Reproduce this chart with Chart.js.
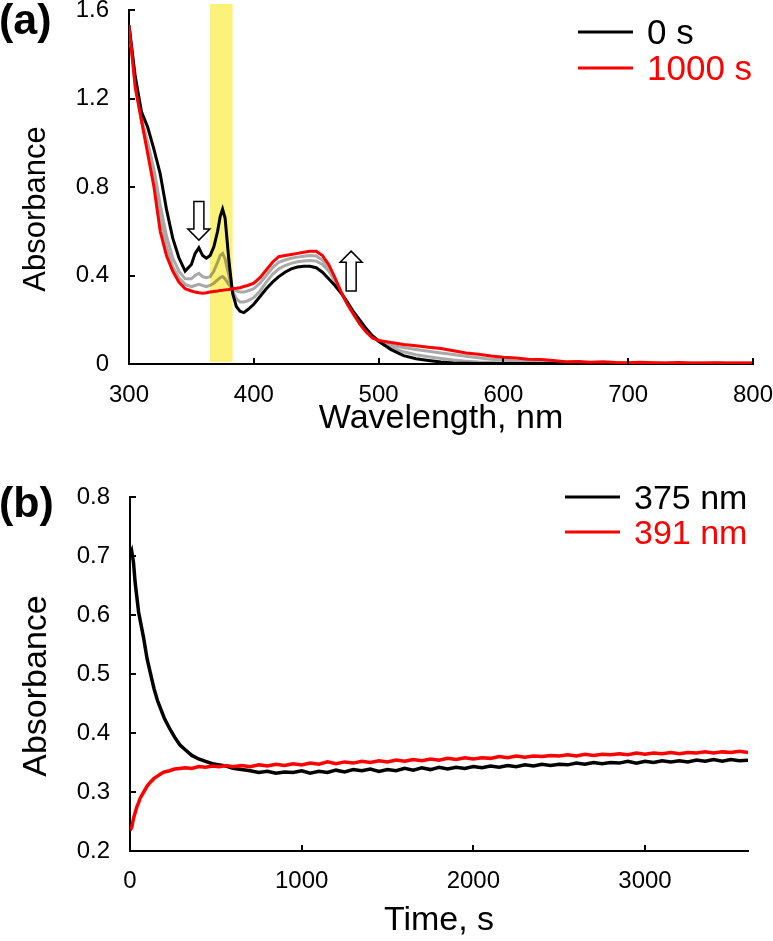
<!DOCTYPE html>
<html>
<head>
<meta charset="utf-8">
<script src="https://cdn.jsdelivr.net/npm/chart.js@4.4.0/dist/chart.umd.min.js"></script>
<style>
  html, body { margin: 0; padding: 0; background: #fff; }
  #wrap { position: relative; width: 773px; height: 941px; }
  .panel { position: absolute; left: 0; width: 773px; }
  #panelA { top: 0; height: 460px; }
  #panelB { top: 470px; height: 471px; }
</style>
</head>
<body>
<div id="wrap">
  <div class="panel" id="panelA"><canvas id="specChart"></canvas></div>
  <div class="panel" id="panelB"><canvas id="kinChart"></canvas></div>
</div>
<script>
// ---- (a) spectra ----
const wavelengths = [
  300, 305, 310, 315, 320, 325, 330, 335, 340, 345,
  350, 353, 356, 359, 362, 365, 368, 371, 373, 375, 377,
  380, 383, 386, 389, 392, 395, 400,
  405, 410, 415, 420, 425, 430, 435, 440, 445, 450,
  455, 460, 465, 470, 475, 480, 485, 490, 495, 500,
  510, 520, 530, 540, 550, 560, 570, 580, 590, 600,
  610, 620, 630, 640, 650, 660, 670, 680, 690, 700,
  710, 720, 730, 740, 750, 760, 770, 780, 790, 800
];
const abs0s = [
  1.53, 1.30, 1.14, 1.07, 0.97, 0.86, 0.70, 0.57, 0.48, 0.42,
  0.45, 0.50, 0.525, 0.49, 0.478, 0.49, 0.53, 0.60, 0.665, 0.70, 0.66,
  0.47, 0.32, 0.26, 0.238, 0.232, 0.245, 0.27,
  0.305, 0.34, 0.37, 0.395, 0.415, 0.43, 0.438, 0.442, 0.442, 0.435,
  0.415, 0.385, 0.355, 0.32, 0.28, 0.235, 0.198, 0.16, 0.128, 0.103,
  0.065, 0.038, 0.024, 0.016, 0.009, 0.005, 0.003, 0.002, 0.002, 0.002,
  0.002, 0.002, 0.002, 0.002, 0.002, 0.002, 0.002, 0.002, 0.002, 0.002,
  0.002, 0.002, 0.002, 0.002, 0.002, 0.002, 0.002, 0.002, 0.002, 0.002
];
const absMid1 = [
  1.53, 1.27, 1.11, 1.00, 0.88, 0.72, 0.58, 0.48, 0.42, 0.385,
  0.385, 0.40, 0.41, 0.395, 0.39, 0.395, 0.42, 0.46, 0.49, 0.50, 0.475,
  0.40, 0.33, 0.295, 0.28, 0.28, 0.285, 0.30,
  0.33, 0.37, 0.405, 0.43, 0.445, 0.455, 0.462, 0.466, 0.468, 0.465,
  0.45, 0.42, 0.375, 0.325, 0.275, 0.23, 0.19, 0.155, 0.125, 0.105,
  0.075, 0.055, 0.042, 0.033, 0.025, 0.018, 0.013, 0.009, 0.007, 0.005,
  0.004, 0.004, 0.003, 0.004, 0.003, 0.003, 0.004, 0.003, 0.003, 0.003,
  0.003, 0.003, 0.003, 0.003, 0.003, 0.003, 0.003, 0.003, 0.003, 0.003
];
const absMid2 = [
  1.53, 1.26, 1.10, 0.97, 0.83, 0.66, 0.53, 0.44, 0.39, 0.36,
  0.35, 0.355, 0.36, 0.355, 0.35, 0.355, 0.365, 0.38, 0.39, 0.395, 0.385,
  0.36, 0.34, 0.33, 0.325, 0.325, 0.33, 0.34,
  0.365, 0.40, 0.435, 0.46, 0.47, 0.478, 0.483, 0.487, 0.49, 0.488,
  0.47, 0.435, 0.38, 0.322, 0.27, 0.222, 0.18, 0.148, 0.125, 0.108,
  0.085, 0.075, 0.066, 0.058, 0.05, 0.043, 0.035, 0.028, 0.022, 0.018,
  0.014, 0.012, 0.01, 0.008, 0.007, 0.006, 0.006, 0.005, 0.006, 0.005,
  0.005, 0.004, 0.005, 0.004, 0.005, 0.004, 0.005, 0.004, 0.004, 0.004
];
const abs1000s = [
  1.53, 1.25, 1.10, 0.95, 0.80, 0.60, 0.49, 0.42, 0.37, 0.34,
  0.33, 0.325, 0.322, 0.32, 0.322, 0.325, 0.328, 0.33, 0.332, 0.333, 0.335,
  0.337, 0.34, 0.342, 0.345, 0.35, 0.355, 0.365,
  0.39, 0.425, 0.46, 0.485, 0.49, 0.495, 0.50, 0.505, 0.51, 0.51,
  0.49, 0.45, 0.39, 0.325, 0.27, 0.225, 0.18, 0.145, 0.118, 0.106,
  0.097, 0.088, 0.082, 0.076, 0.07, 0.06, 0.05, 0.044, 0.036, 0.03,
  0.027, 0.022, 0.02, 0.016, 0.01, 0.011, 0.008, 0.01, 0.007, 0.006,
  0.008, 0.006, 0.005, 0.007, 0.005, 0.004, 0.006, 0.004, 0.005, 0.004
];
const wavelengthTicks = [300, 400, 500, 600, 700, 800];
const absTicksA = [0, 0.4, 0.8, 1.2, 1.6];
const bandRange = [365, 383];          // irradiation window, nm
const arrowDown = { nm: 356, from: 0.735, to: 0.56 };
const arrowUp = { nm: 478, from: 0.33, to: 0.51 };

// ---- (b) kinetics ----
const times = [
  0, 10, 20, 30, 40, 50, 60, 80, 100, 120,
  140, 160, 180, 200, 230, 260, 290, 320, 360, 400,
  440, 480, 520, 560, 600,
  650, 700, 750, 800, 850, 900, 950, 1000, 1050, 1100,
  1150, 1200, 1250, 1300, 1350, 1400, 1450, 1500, 1550, 1600,
  1650, 1700, 1750, 1800, 1850, 1900, 1950, 2000, 2050, 2100,
  2150, 2200, 2250, 2300, 2350, 2400, 2450, 2500, 2550, 2600,
  2650, 2700, 2750, 2800, 2850, 2900, 2950, 3000, 3050, 3100,
  3150, 3200, 3250, 3300, 3350, 3400, 3450, 3500, 3550, 3600
];
const abs375 = [
  0.700, 0.708, 0.690, 0.655, 0.630, 0.605, 0.590, 0.560, 0.525, 0.500,
  0.475, 0.455, 0.440, 0.425, 0.408, 0.393, 0.380, 0.372, 0.362, 0.356,
  0.352, 0.348, 0.346, 0.344, 0.340,
  0.338, 0.336, 0.333, 0.335, 0.332, 0.334, 0.333, 0.336, 0.332, 0.335,
  0.333, 0.337, 0.334, 0.338, 0.336, 0.339, 0.335, 0.338, 0.336, 0.340,
  0.337, 0.341, 0.338, 0.342, 0.339, 0.342, 0.340, 0.343, 0.341, 0.344,
  0.342, 0.345, 0.343, 0.346, 0.344, 0.347, 0.345, 0.347, 0.346, 0.349,
  0.347, 0.350, 0.348, 0.350, 0.349, 0.352, 0.349, 0.352, 0.350, 0.353,
  0.351, 0.353, 0.351, 0.354, 0.352, 0.355, 0.352, 0.355, 0.353, 0.354
];
const abs391 = [
  0.235, 0.240, 0.255, 0.265, 0.275, 0.282, 0.290, 0.300, 0.310, 0.317,
  0.323, 0.327, 0.331, 0.334, 0.336, 0.339, 0.340, 0.341, 0.340, 0.343,
  0.342, 0.344, 0.343, 0.345, 0.343,
  0.345, 0.343, 0.346, 0.344, 0.347, 0.345, 0.348, 0.346, 0.349, 0.347,
  0.351, 0.348, 0.351, 0.349, 0.352, 0.350, 0.353, 0.351, 0.354, 0.352,
  0.355, 0.353, 0.356, 0.354, 0.357, 0.355, 0.358, 0.356, 0.358, 0.357,
  0.360, 0.358, 0.361, 0.359, 0.361, 0.360, 0.362, 0.361, 0.363, 0.361,
  0.364, 0.362, 0.364, 0.363, 0.365, 0.363, 0.366, 0.364, 0.366, 0.365,
  0.367, 0.365, 0.367, 0.366, 0.368, 0.366, 0.368, 0.367, 0.369, 0.367
];
const timeTicks = [0, 1000, 2000, 3000];
const absTicksB = [0.2, 0.3, 0.4, 0.5, 0.6, 0.7, 0.8];

const FONT = "'Liberation Sans', Arial, Helvetica, sans-serif";
Chart.defaults.font.family = FONT;
Chart.defaults.color = "#000";
Chart.defaults.responsive = true;
Chart.defaults.maintainAspectRatio = false;
Chart.defaults.animation = false;
Chart.defaults.plugins.legend.display = false;
Chart.defaults.plugins.tooltip.enabled = false;
Chart.defaults.elements.point.radius = 0;
Chart.defaults.elements.line.tension = 0;

const pairs = (xs, ys) => xs.map((x, i) => ({ x: x, y: ys[i] }));
const noPad = s => { s.paddingTop = s.paddingBottom = s.paddingLeft = s.paddingRight = 0; };
const fitWidth = w => s => { s.width = w; noPad(s); };
const fitHeight = h => s => { s.height = h; noPad(s); };
const fixedTicks = list => s => { s.ticks = list.map(v => ({ value: v })); };
const decimal = v => String(+(+v).toFixed(1));

// short ticks pointing into the plot
const innerTicks = {
  id: 'innerTicks',
  afterDatasetsDraw(chart) {
    const { ctx, chartArea: a, scales: { x, y } } = chart;
    ctx.save();
    ctx.strokeStyle = '#000';
    ctx.lineWidth = 2;
    ctx.beginPath();
    x.ticks.forEach(t => {
      const px = Math.round(x.getPixelForValue(t.value));
      ctx.moveTo(px, a.bottom); ctx.lineTo(px, a.bottom - 6);
    });
    y.ticks.forEach(t => {
      const py = Math.round(y.getPixelForValue(t.value));
      ctx.moveTo(a.left, py); ctx.lineTo(a.left + 6, py);
    });
    ctx.stroke();
    ctx.restore();
  }
};

// yellow band laid over the spectra
const bandPlugin = {
  id: 'band',
  afterDatasetsDraw(chart) {
    const { ctx, chartArea: a, scales: { x } } = chart;
    const x0 = x.getPixelForValue(bandRange[0]);
    const x1 = x.getPixelForValue(bandRange[1]);
    ctx.save();
    ctx.globalCompositeOperation = 'multiply';
    ctx.fillStyle = '#fbf27a';
    ctx.fillRect(x0, a.top - 6, x1 - x0, a.bottom - a.top + 4);
    ctx.restore();
  }
};

function blockArrow(ctx, cx, yTail, yTip) {
  const dir = yTip > yTail ? 1 : -1;
  const shaft = 5, head = 11, headLen = 11;
  const yNeck = yTip - dir * headLen;
  ctx.beginPath();
  ctx.moveTo(cx - shaft, yTail);
  ctx.lineTo(cx + shaft, yTail);
  ctx.lineTo(cx + shaft, yNeck);
  ctx.lineTo(cx + head, yNeck);
  ctx.lineTo(cx, yTip);
  ctx.lineTo(cx - head, yNeck);
  ctx.lineTo(cx - shaft, yNeck);
  ctx.closePath();
  ctx.fillStyle = '#fff';
  ctx.fill();
  ctx.strokeStyle = '#000';
  ctx.lineWidth = 1.5;
  ctx.stroke();
}

const arrowPlugin = {
  id: 'arrows',
  afterDatasetsDraw(chart) {
    const { ctx, scales: { x, y } } = chart;
    ctx.save();
    [arrowDown, arrowUp].forEach(a => {
      blockArrow(ctx, x.getPixelForValue(a.nm), y.getPixelForValue(a.from), y.getPixelForValue(a.to));
    });
    ctx.restore();
  }
};

// y-axis title, drawn by hand so it can sit a little below the axis centre
const yTitlePlugin = {
  id: 'yTitle',
  afterDraw(chart, args, o) {
    const { ctx, chartArea: a } = chart;
    const t = chart.scales.y.options.title;
    ctx.save();
    ctx.translate(o.x, (a.top + a.bottom) / 2 + o.dy);
    ctx.rotate(-Math.PI / 2);
    ctx.font = t.font.size + 'px ' + FONT;
    ctx.textAlign = 'center';
    ctx.textBaseline = 'middle';
    ctx.fillStyle = '#000';
    ctx.fillText(t.text, 0, 0);
    ctx.restore();
  }
};

// legend: short line + coloured label, only for datasets flagged inKey
const keyPlugin = {
  id: 'key',
  afterDraw(chart, args, o) {
    const { ctx } = chart;
    const items = chart.data.datasets.filter(d => d.inKey);
    ctx.save();
    ctx.font = o.size + 'px ' + FONT;
    ctx.textBaseline = 'middle';
    items.forEach((d, i) => {
      const y = o.y + i * o.gap;
      ctx.strokeStyle = d.borderColor;
      ctx.lineWidth = 3;
      ctx.beginPath(); ctx.moveTo(o.x, y); ctx.lineTo(o.x + 55, y); ctx.stroke();
      ctx.fillStyle = d.borderColor;
      ctx.fillText(d.label, o.x + 69, y + o.dy);
    });
    ctx.restore();
  }
};

const tagPlugin = {
  id: 'tag',
  afterDraw(chart, args, o) {
    const { ctx } = chart;
    ctx.save();
    ctx.font = 'bold 43px ' + FONT;
    ctx.textBaseline = 'middle';
    ctx.fillStyle = '#000';
    ctx.fillText(o.text, o.x, o.y);
    ctx.restore();
  }
};

const tickFont = { size: 24 };
const axisBorder = { color: '#000', width: 2 };
const noGrid = { display: false, drawTicks: false };

/* (a) absorption spectra */
new Chart(document.getElementById('specChart'), {
  type: 'line',
  data: {
    datasets: [
      { label: '0 s', data: pairs(wavelengths, abs0s), borderColor: '#000000', borderWidth: 3, order: 1, inKey: true },
      { label: 'intermediate 1', data: pairs(wavelengths, absMid1), borderColor: '#a9a9a9', borderWidth: 3, order: 2 },
      { label: 'intermediate 2', data: pairs(wavelengths, absMid2), borderColor: '#a9a9a9', borderWidth: 3, order: 3 },
      { label: '1000 s', data: pairs(wavelengths, abs1000s), borderColor: '#ff0000', borderWidth: 3, order: 0, inKey: true }
    ]
  },
  options: {
    layout: { padding: { top: 10, right: 20, left: 0, bottom: 0 } },
    scales: {
      x: {
        type: 'linear', min: 300, max: 800,
        afterFit: fitHeight(96),
        afterBuildTicks: fixedTicks(wavelengthTicks),
        grid: noGrid,
        border: axisBorder,
        ticks: { padding: 17, font: tickFont, autoSkip: false, maxRotation: 0, callback: v => String(v) },
        title: { display: true, text: 'Wavelength, nm', font: { size: 34 }, padding: { top: 0, bottom: 21 } }
      },
      y: {
        min: 0, max: 1.6,
        afterFit: fitWidth(129),
        afterBuildTicks: fixedTicks(absTicksA),
        grid: noGrid,
        border: axisBorder,
        ticks: { padding: 20, font: tickFont, autoSkip: false, callback: decimal },
        title: { display: false, text: 'Absorbance', font: { size: 31 } }
      }
    },
    plugins: {
      yTitle: { x: 36, dy: 22 },
      key: { x: 578, y: 32, gap: 36, size: 35, dy: 2 },
      tag: { text: '(a)', x: -1, y: 22 }
    }
  },
  plugins: [bandPlugin, arrowPlugin, innerTicks, yTitlePlugin, keyPlugin, tagPlugin]
});

/* (b) kinetic traces */
new Chart(document.getElementById('kinChart'), {
  type: 'line',
  data: {
    datasets: [
      { label: '375 nm', data: pairs(times, abs375), borderColor: '#000000', borderWidth: 3.5, order: 1, inKey: true },
      { label: '391 nm', data: pairs(times, abs391), borderColor: '#ff0000', borderWidth: 3.5, order: 0, inKey: true }
    ]
  },
  options: {
    layout: { padding: { top: 27, right: 25, left: 0, bottom: 0 } },
    scales: {
      x: {
        type: 'linear', min: 0, max: 3600,
        afterFit: fitHeight(90),
        afterBuildTicks: fixedTicks(timeTicks),
        grid: noGrid,
        border: axisBorder,
        ticks: { padding: 16, font: tickFont, autoSkip: false, maxRotation: 0, callback: v => String(v) },
        title: { display: true, text: 'Time, s', font: { size: 34 }, padding: { top: 0, bottom: 0 } }
      },
      y: {
        min: 0.2, max: 0.8,
        afterFit: fitWidth(130),
        afterBuildTicks: fixedTicks(absTicksB),
        grid: noGrid,
        border: axisBorder,
        ticks: { padding: 20, font: tickFont, autoSkip: false, callback: decimal },
        title: { display: false, text: 'Absorbance', font: { size: 34 } }
      }
    },
    plugins: {
      yTitle: { x: 37, dy: 12 },
      key: { x: 565, y: 27, gap: 35, size: 34, dy: 3 },
      tag: { text: '(b)', x: -1, y: 35 }
    }
  },
  plugins: [innerTicks, yTitlePlugin, keyPlugin, tagPlugin]
});
</script>
</body>
</html>
